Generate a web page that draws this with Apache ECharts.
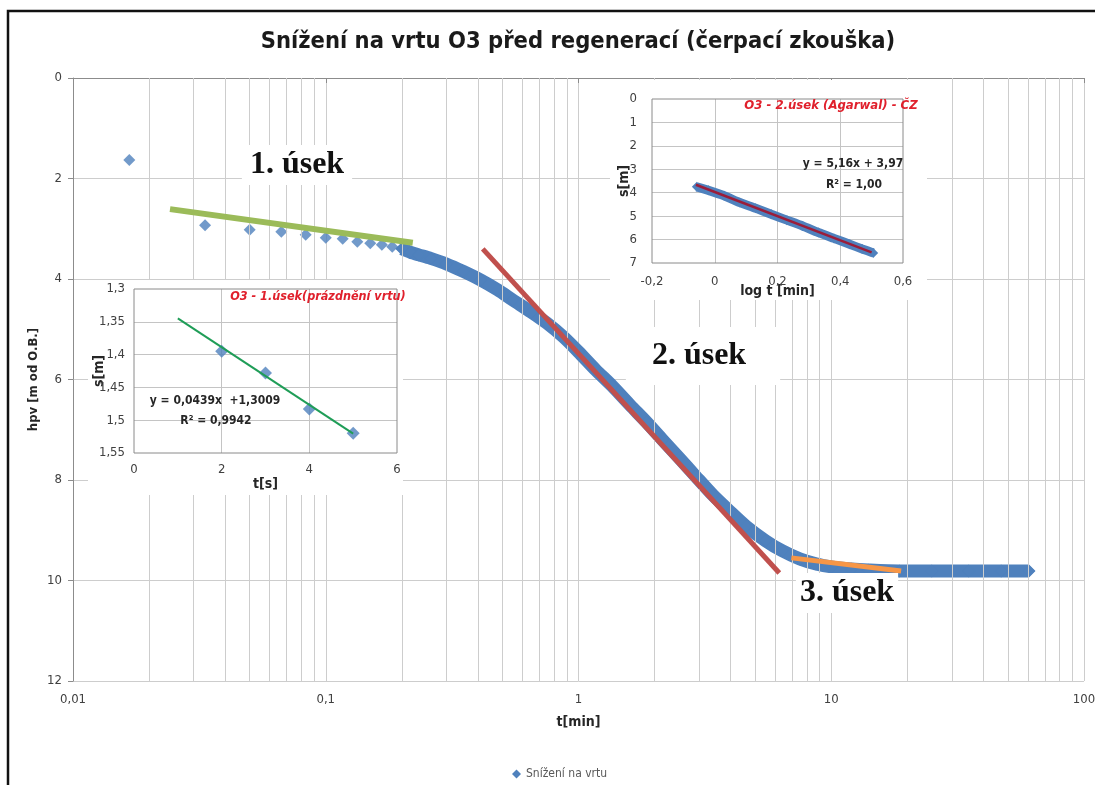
<!DOCTYPE html>
<html>
<head>
<meta charset="utf-8">
<script src="https://cdn.jsdelivr.net/npm/echarts@6/dist/echarts.min.js"></script>
<style>
  html, body { margin: 0; padding: 0; background: #fff; }
  #chart { width: 1095px; height: 785px; }
</style>
</head>
<body>
<div id="chart"></div>
<script>
// Drawdown in well O3 during the pumping test (t in minutes, hpv in m below reference point)
const timeMin = [0.0167, 0.0333, 0.05, 0.0667, 0.0833, 0.1, 0.1167, 0.1333, 0.15, 0.1667, 0.1833, 0.2,
  0.2167, 0.2333, 0.26, 0.30, 0.35, 0.41, 0.48, 0.55, 0.65, 0.75, 0.87, 1.0, 1.17, 1.36, 1.6, 1.86,
  2.15, 2.5, 2.9, 3.4, 4.0, 4.6, 5.5, 6.4, 7.5, 8.7, 10, 12, 14, 18.6, 25, 35, 47, 60.6];
const hpvM = [1.63, 2.93, 3.02, 3.06, 3.12, 3.18, 3.20, 3.26, 3.29, 3.32, 3.36, 3.40,
  3.47, 3.52, 3.59, 3.70, 3.85, 4.02, 4.22, 4.42, 4.66, 4.88, 5.15, 5.45, 5.81, 6.13, 6.51, 6.85,
  7.20, 7.56, 7.92, 8.30, 8.64, 8.92, 9.21, 9.41, 9.57, 9.67, 9.73, 9.77, 9.79, 9.81, 9.81, 9.81, 9.81, 9.81];
// from this time on the readings merge into one continuous band
const bandFromMin = 0.2;

// hand-drawn section lines [t, hpv]
const section1Line = [[0.0242, 2.61], [0.221, 3.28]];
const section2Line = [[0.418, 3.40], [6.23, 9.85]];
const section3Line = [[6.95, 9.55], [18.9, 9.81]];

// inset 1 – emptying of the well
const emptyTimeS = [2, 3, 4, 5];
const emptyDrawdown = [1.395, 1.428, 1.483, 1.52];
const emptyFit = { slope: 0.0439, intercept: 1.3009, r2: 0.9942, from: 1, to: 5 };

// inset 2 – Agarwal plot of the second section
const agLogT = [-0.057, -0.02, 0.03, 0.08, 0.13, 0.18, 0.23, 0.28, 0.33, 0.38, 0.43, 0.47, 0.505];
const agDrawdown = [3.75, 3.90, 4.13, 4.42, 4.66, 4.92, 5.17, 5.42, 5.70, 5.95, 6.20, 6.40, 6.57];
const agFit = { slope: 5.16, intercept: 3.97, r2: 1.00, from: -0.06, to: 0.5 };

const seriesName = 'Snížení na vrtu';

// ---- helpers -------------------------------------------------------------
const comma = v => String(+Number(v).toPrecision(10)).replace('.', ',');
const fixed = (v, d) => v.toFixed(d).replace('.', ',');
const fitLine = f => [[f.from, f.slope * f.from + f.intercept], [f.to, f.slope * f.to + f.intercept]];

const blue = '#4f81bd';
const gridGray = '#cdcdcd';
const axisGray = '#8c8c8c';
const labelColor = '#404040';
const narrow = '"Liberation Sans Narrow", "DejaVu Sans Condensed", "Liberation Sans", sans-serif';
const serif = '"Liberation Serif", "DejaVu Serif", serif';

const mainPoints = timeMin.map((t, i) => [t, hpvM[i]]);
const bandPoints = mainPoints.filter(p => p[0] >= bandFromMin);
const emptyPoints = emptyTimeS.map((t, i) => [t, emptyDrawdown[i]]);
const agPoints = agLogT.map((x, i) => [x, agDrawdown[i]]);

// minor vertical gridlines of the log axis (2..9 in every decade)
const minorGrid = [];
for (let e = -2; e < 2; e++) {
  for (let k = 2; k < 10; k++) minorGrid.push({ xAxis: +(k * Math.pow(10, e)).toPrecision(6) });
}

const axisLabelStyle = { color: labelColor, fontSize: 13, fontFamily: narrow };
const insetAxisName = { fontWeight: 'bold', fontSize: 14, color: '#262626', fontFamily: narrow };

function insetAxis(extra) {
  return Object.assign({
    type: 'value',
    z: 12,
    axisLine: { show: false },
    axisTick: { show: false },
    splitLine: { show: true, showMinLine: false, showMaxLine: false, lineStyle: { color: '#c4c4c4', width: 1 } },
    axisLabel: Object.assign({ formatter: v => comma(v) }, axisLabelStyle),
    nameLocation: 'middle',
    nameMoveOverlap: false,
    nameTextStyle: insetAxisName
  }, extra);
}

function text(x, y, str, style) {
  return {
    type: 'text', x: x, y: y, z: 20, silent: true,
    style: Object.assign({ text: str, textAlign: 'center', textVerticalAlign: 'middle',
      align: 'center', verticalAlign: 'middle' }, style)
  };
}

const chart = echarts.init(document.getElementById('chart'), null, { renderer: 'canvas' });

chart.setOption({
  animation: false,
  backgroundColor: '#ffffff',
  grid: [
    { left: 73, right: 11, top: 78, bottom: 104, outerBoundsMode: 'none' },
    { left: 134, top: 289, width: 263, height: 164, show: true, borderColor: '#8a8a8a', borderWidth: 1,
      backgroundColor: 'transparent', z: 13, outerBoundsMode: 'none' },
    { left: 652, top: 99, width: 251, height: 164, show: true, borderColor: '#8a8a8a', borderWidth: 1,
      backgroundColor: 'transparent', z: 13, outerBoundsMode: 'none' }
  ],
  legend: {
    data: [{ name: seriesName, icon: 'diamond' }],
    left: 507, top: 763,
    itemWidth: 9, itemHeight: 9, itemGap: 6,
    selectedMode: false,
    textStyle: { fontSize: 12, color: '#595959', fontFamily: narrow }
  },
  xAxis: [
    {
      type: 'log', logBase: 10, min: 0.01, max: 100, gridIndex: 0,
      axisLine: { show: true, lineStyle: { color: axisGray } },
      axisTick: { show: true, length: 5, lineStyle: { color: axisGray } },
      splitLine: { show: true, lineStyle: { color: gridGray, width: 1 } },
      axisLabel: Object.assign({ margin: 12, formatter: v => comma(v) }, axisLabelStyle),
      name: 't[min]', nameLocation: 'middle', nameGap: 34, nameMoveOverlap: false,
      nameTextStyle: { fontWeight: 'bold', fontSize: 14, color: '#262626', fontFamily: narrow }
    },
    insetAxis({ gridIndex: 1, min: 0, max: 6, interval: 2, name: 't[s]', nameGap: 24,
      axisLabel: Object.assign({ margin: 10, formatter: v => comma(v) }, axisLabelStyle) }),
    insetAxis({ gridIndex: 2, min: -0.2, max: 0.6, interval: 0.2, name: 'log t [min]', nameGap: 21,
      axisLabel: Object.assign({ margin: 12, formatter: v => comma(v) }, axisLabelStyle) })
  ],
  yAxis: [
    {
      type: 'value', gridIndex: 0, min: 0, max: 12, interval: 2, inverse: true,
      axisLine: { show: true, lineStyle: { color: axisGray } },
      axisTick: { show: true, length: 5, lineStyle: { color: axisGray } },
      splitLine: { show: true, lineStyle: { color: gridGray, width: 1 } },
      axisLabel: Object.assign({ margin: 11, formatter: v => comma(v) }, axisLabelStyle),
      name: 'hpv [m od O.B.]', nameLocation: 'middle', nameGap: 33, nameRotate: 90, nameMoveOverlap: false,
      nameTextStyle: { fontWeight: 'bold', fontSize: 13, color: '#262626', fontFamily: narrow }
    },
    insetAxis({ gridIndex: 1, min: 1.3, max: 1.55, interval: 0.05, inverse: true, name: 's[m]',
      nameGap: 28, nameRotate: 90, axisLabel: Object.assign({ margin: 9, formatter: v => comma(v) }, axisLabelStyle) }),
    insetAxis({ gridIndex: 2, min: 0, max: 7, interval: 1, inverse: true, name: 's[m]',
      nameGap: 21, nameRotate: 90, axisLabel: Object.assign({ margin: 15, formatter: v => comma(v) }, axisLabelStyle) })
  ],
  series: [
    {
      // carrier for the minor log gridlines
      type: 'line', xAxisIndex: 0, yAxisIndex: 0, data: [[0.01, 0]], symbol: 'none',
      lineStyle: { width: 0 }, silent: true, z: 1, legendHoverLink: false,
      markLine: {
        silent: true, symbol: 'none', animation: false,
        label: { show: false },
        lineStyle: { color: gridGray, width: 1, type: 'solid' },
        data: minorGrid
      }
    },
    {
      name: seriesName, type: 'line', xAxisIndex: 0, yAxisIndex: 0,
      data: bandPoints, smooth: 0.25,
      symbol: 'diamond', symbolSize: 13, showSymbol: true,
      itemStyle: { color: blue },
      lineStyle: { color: blue, width: 13, join: 'round', cap: 'butt' },
      z: 3, silent: true
    },
    {
      name: seriesName, type: 'scatter', xAxisIndex: 0, yAxisIndex: 0,
      data: mainPoints, symbol: 'diamond', symbolSize: 12,
      itemStyle: { color: blue }, z: 4, silent: true
    },
    {
      type: 'line', xAxisIndex: 0, yAxisIndex: 0, data: section1Line, symbol: 'none',
      lineStyle: { color: '#9bbb59', width: 6 }, z: 5, silent: true
    },
    {
      type: 'line', xAxisIndex: 0, yAxisIndex: 0, data: section2Line, symbol: 'none',
      lineStyle: { color: '#c0504d', width: 5 }, z: 5, silent: true
    },
    {
      type: 'line', xAxisIndex: 0, yAxisIndex: 0, data: section3Line, symbol: 'none',
      lineStyle: { color: '#f79646', width: 5 }, z: 5, silent: true
    },
    {
      type: 'scatter', xAxisIndex: 1, yAxisIndex: 1, data: emptyPoints,
      symbol: 'diamond', symbolSize: 13, itemStyle: { color: blue }, z: 14, silent: true
    },
    {
      type: 'line', xAxisIndex: 1, yAxisIndex: 1, data: fitLine(emptyFit), symbol: 'none',
      lineStyle: { color: '#1f9d57', width: 2 }, z: 15, silent: true
    },
    {
      type: 'line', xAxisIndex: 2, yAxisIndex: 2, data: agPoints, smooth: 0.2,
      symbol: 'diamond', symbolSize: 10, showSymbol: true,
      itemStyle: { color: blue }, lineStyle: { color: blue, width: 9, cap: 'butt' },
      z: 14, silent: true
    },
    {
      type: 'line', xAxisIndex: 2, yAxisIndex: 2, data: fitLine(agFit), symbol: 'none',
      lineStyle: { color: '#9b1d3a', width: 2.5 }, z: 15, silent: true
    }
  ],
  graphic: [
    // white panels behind the two inset plots
    { type: 'rect', z: 10, silent: true, shape: { x: 88, y: 280, width: 315, height: 215 }, style: { fill: '#fff' } },
    { type: 'rect', z: 10, silent: true, shape: { x: 610, y: 80, width: 317, height: 220 }, style: { fill: '#fff' } },
    // outer frame
    { type: 'rect', z: 30, silent: true, shape: { x: 8, y: 11, width: 1100, height: 800 },
      style: { fill: 'none', stroke: '#111', lineWidth: 2.5 } },
    text(578, 42, 'Snížení na vrtu O3 před regenerací (čerpací zkouška)',
      { fontSize: 23.5, fontWeight: 'bold', fontFamily: narrow, fill: '#1a1a1a' }),
    text(318, 297, 'O3 - 1.úsek(prázdnění vrtu)',
      { fontSize: 12.5, fontWeight: 'bold', fontStyle: 'italic', fontFamily: narrow, fill: '#e0202c' }),
    text(831, 106, 'O3 - 2.úsek (Agarwal) - ČZ',
      { fontSize: 13, fontWeight: 'bold', fontStyle: 'italic', fontFamily: narrow, fill: '#e0202c' }),
    text(215, 401, 'y = ' + fixed(emptyFit.slope, 4) + 'x  +' + fixed(emptyFit.intercept, 4),
      { fontSize: 12, fontWeight: 'bold', fontFamily: narrow, fill: '#262626' }),
    text(216, 421, 'R² = ' + fixed(emptyFit.r2, 4),
      { fontSize: 12, fontWeight: 'bold', fontFamily: narrow, fill: '#262626' }),
    text(853, 164, 'y = ' + fixed(agFit.slope, 2) + 'x + ' + fixed(agFit.intercept, 2),
      { fontSize: 12, fontWeight: 'bold', fontFamily: narrow, fill: '#262626' }),
    text(854, 185, 'R² = ' + fixed(agFit.r2, 2),
      { fontSize: 12, fontWeight: 'bold', fontFamily: narrow, fill: '#262626' }),
    // section captions
    text(297, 165, '1. úsek', { fontSize: 32, fontWeight: 'bold', fontFamily: serif, fill: '#111',
      backgroundColor: '#fff', padding: [4, 8, 4, 8] }),
    text(703, 356, '2. úsek', { fontSize: 32, fontWeight: 'bold', fontFamily: serif, fill: '#111',
      backgroundColor: '#fff', padding: [14, 34, 12, 26] }),
    text(847, 593, '3. úsek', { fontSize: 32, fontWeight: 'bold', fontFamily: serif, fill: '#111',
      backgroundColor: '#fff', padding: [4, 4, 4, 4] })
  ]
});
</script>
</body>
</html>
